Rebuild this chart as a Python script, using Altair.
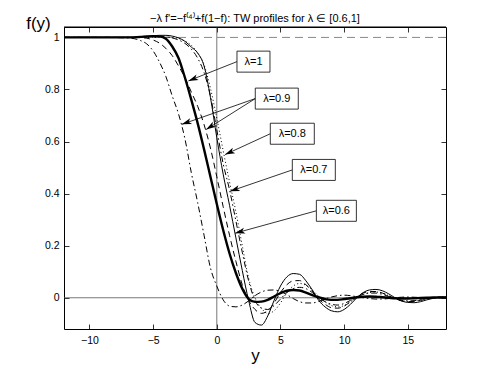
import math
import altair as alt
import pandas as pd

# ---------------- data ----------------
XS = [-12, -9, -7, -6, -5.5, -5, -4.5, -4, -3.5, -3, -2.5, -2, -1.5, -1, -0.5, 0,
      0.5, 1, 1.5, 2, 2.5, 3, 3.5, 4, 4.5, 5, 5.5, 6, 6.5, 7, 7.5, 8, 8.5, 9, 9.5,
      10, 10.5, 11, 11.5, 12, 12.5, 13, 13.5, 14, 14.5, 15, 15.5, 16, 16.5, 17, 17.5, 18]

# leftmost dash-dot profile (second lambda=0.9 solution)
CURVE_A = [1.0, 1.0, 0.998, 0.988, 0.975, 0.948, 0.905, 0.85, 0.775, 0.705, 0.61, 0.48,
           0.365, 0.24, 0.115, 0.045, -0.008, -0.032, -0.035, -0.028, -0.012, 0.008, 0.022,
           0.029, 0.03, 0.024, 0.012, -0.003, -0.015, -0.02, -0.02, -0.014, -0.005, 0.003,
           0.008, 0.01, 0.008, 0.004, 0.0, -0.003, -0.005, -0.005, -0.003, 0.0, 0.002, 0.003,
           0.002, 0.001, 0.0, -0.001, 0.0, 0.0]
# thick solid profile (lambda=1)
CURVE_B = [1.0, 1.0, 1.0, 1.002, 1.004, 1.005, 1.004, 0.995, 0.965, 0.92, 0.845, 0.76,
           0.67, 0.57, 0.465, 0.36, 0.26, 0.17, 0.095, 0.035, -0.004, -0.016, -0.015,
           -0.008, 0.005, 0.018, 0.027, 0.03, 0.028, 0.02, 0.01, 0.002, -0.005, -0.008,
           -0.008, -0.005, -0.002, 0.002, 0.004, 0.005, 0.004, 0.002, 0.0, -0.002, -0.003,
           -0.003, -0.002, -0.001, 0.0, 0.001, 0.001, 0.001]
# dashed profile (lambda=0.9)
CURVE_C = [1.0, 1.0, 1.0, 0.999, 0.997, 0.99, 0.978, 0.958, 0.93, 0.89, 0.845, 0.79,
           0.735, 0.665, 0.575, 0.465, 0.35, 0.24, 0.14, 0.05, -0.01, -0.045, -0.06, -0.05,
           -0.02, 0.02, 0.05, 0.065, 0.066, 0.05, 0.025, -0.005, -0.025, -0.038, -0.04,
           -0.032, -0.015, 0.005, 0.018, 0.024, 0.024, 0.018, 0.008, -0.004, -0.012, -0.015,
           -0.014, -0.01, -0.005, 0.0, 0.002, 0.002]
# thin solid profile (lambda=0.8)
CURVE_D = [1.0, 1.0, 1.0, 1.001, 1.003, 1.006, 1.008, 1.008, 1.005, 0.998, 0.985, 0.963,
           0.94, 0.89, 0.77, 0.615, 0.475, 0.355, 0.23, 0.105, -0.01, -0.095, -0.105, -0.07,
           -0.01, 0.045, 0.08, 0.093, 0.09, 0.065, 0.03, -0.01, -0.035, -0.05, -0.054, -0.045,
           -0.025, 0.0, 0.02, 0.03, 0.032, 0.027, 0.015, 0.0, -0.012, -0.018, -0.019, -0.015,
           -0.008, -0.002, 0.002, 0.003]
# right dash-dot profile (lambda=0.7)
CURVE_E = [1.0, 1.0, 1.0, 1.0, 1.001, 1.002, 1.003, 1.002, 0.998, 0.99, 0.977, 0.955,
           0.92, 0.865, 0.775, 0.645, 0.515, 0.415, 0.295, 0.175, 0.065, -0.01, -0.04, -0.045,
           -0.03, -0.005, 0.02, 0.035, 0.04, 0.035, 0.02, 0.0, -0.015, -0.025, -0.028, -0.022,
           -0.01, 0.003, 0.013, 0.018, 0.018, 0.013, 0.005, -0.004, -0.01, -0.012, -0.011,
           -0.007, -0.003, 0.0, 0.002, 0.002]
# dotted profile (lambda=0.6)
CURVE_F = [1.0, 1.0, 1.0, 1.0, 1.0, 1.0, 1.001, 1.001, 1.0, 0.996, 0.986, 0.97,
           0.94, 0.895, 0.805, 0.69, 0.565, 0.445, 0.33, 0.2, 0.075, 0.0, -0.04, -0.06,
           -0.05, -0.02, 0.02, 0.045, 0.055, 0.048, 0.03, 0.005, -0.015, -0.03, -0.035, -0.03,
           -0.015, 0.0, 0.012, 0.02, 0.022, 0.018, 0.008, -0.003, -0.01, -0.014, -0.013,
           -0.009, -0.004, 0.0, 0.002, 0.002]

CURVE_NAMES = ["A", "B", "C", "D", "E", "F"]
CURVE_VALUES = [CURVE_A, CURVE_B, CURVE_C, CURVE_D, CURVE_E, CURVE_F]

XTICKS = [-10, -5, 0, 5, 10, 15]
YTICKS = [0, 0.2, 0.4, 0.6, 0.8, 1]

# annotation boxes
BOX_LABELS = ["λ=1", "λ=0.9", "λ=0.8", "λ=0.7", "λ=0.6"]
BOX_X = [2.88, 4.71, 5.93, 7.62, 9.39]
BOX_Y = [0.907, 0.765, 0.63, 0.491, 0.334]
BOX_W_PX = [33, 43, 44, 43, 40]
# arrows: which box they start from, and where they point
ARROW_BOX = [0, 1, 1, 2, 3, 4]
ARROW_TIP_X = [-2.23, -2.75, -0.84, 0.65, 1.04, 1.44]
ARROW_TIP_Y = [0.833, 0.666, 0.646, 0.55, 0.409, 0.248]

# ---------------- styling ----------------
STYLES = {
    "A": dict(strokeDash=[6, 3, 1.5, 3], strokeWidth=1.0),
    "B": dict(strokeWidth=2.4),
    "C": dict(strokeDash=[6, 4], strokeWidth=1.0),
    "D": dict(strokeWidth=1.0),
    "E": dict(strokeDash=[6, 3, 1.5, 3], strokeWidth=1.0),
    "F": dict(strokeDash=[1, 2.5], strokeWidth=1.0),
}

W, H = 382, 302
X_DOMAIN = [-12, 18]
Y_DOMAIN = [-0.12, 1.04]
KX = W / (X_DOMAIN[1] - X_DOMAIN[0])
KY = H / (Y_DOMAIN[1] - Y_DOMAIN[0])
BOX_H_PX = 21
FONT = "Liberation Sans"

for v in CURVE_VALUES:
    assert len(v) == len(XS)

rows = []
for name, vals in zip(CURVE_NAMES, CURVE_VALUES):
    for x, y in zip(XS, vals):
        rows.append({"x": x, "f": y, "curve": name})
df = pd.DataFrame(rows)

xs = alt.Scale(domain=X_DOMAIN, nice=False, zero=False)
ys = alt.Scale(domain=Y_DOMAIN, nice=False, zero=False)

# ---------------- axes (inward ticks on all four sides) ----------------
axis_main = alt.Chart(df).mark_point(opacity=0).encode(
    x=alt.X("x:Q", scale=xs, axis=alt.Axis(
        orient="bottom", values=XTICKS, format="~g", offset=-5, tickSize=5,
        domain=False, grid=False, labelPadding=6, title="y", titleFontSize=17,
        titleFontWeight="normal", titleY=31, titleBaseline="middle")),
    y=alt.Y("f:Q", scale=ys, axis=alt.Axis(
        orient="left", values=YTICKS, format="~g", offset=-5, tickSize=5,
        domain=False, grid=False, labelPadding=5, title="f(y)", titleAngle=0,
        titleX=-31, titleY=-4, titleAlign="center", titleBaseline="middle",
        titleFontSize=17, titleFontWeight="normal")),
)
axis_mirror = alt.Chart(df).mark_point(opacity=0).encode(
    x=alt.X("x:Q", scale=xs, axis=alt.Axis(
        orient="top", values=XTICKS, labels=False, offset=-5, tickSize=5,
        domain=False, grid=False, title=None)),
    y=alt.Y("f:Q", scale=ys, axis=alt.Axis(
        orient="right", values=YTICKS, labels=False, offset=-5, tickSize=5,
        domain=False, grid=False, title=None)),
)

# ---------------- reference lines and frame ----------------
vline = alt.Chart(pd.DataFrame({"x": [0]})).mark_rule(color="#555", strokeWidth=0.8).encode(
    x=alt.X("x:Q", scale=xs, axis=None))
hline = alt.Chart(pd.DataFrame({"f": [0]})).mark_rule(color="#555", strokeWidth=0.8).encode(
    y=alt.Y("f:Q", scale=ys, axis=None))
one_line = alt.Chart(pd.DataFrame({"f": [1]})).mark_rule(
    color="#888", strokeWidth=1, strokeDash=[8, 5]).encode(
    y=alt.Y("f:Q", scale=ys, axis=None))
top_frame = alt.Chart(pd.DataFrame({"f": [Y_DOMAIN[1]]})).mark_rule(
    color="black", strokeWidth=1.2).encode(
    y=alt.Y("f:Q", scale=ys, axis=None))

# ---------------- curves ----------------
curve_layers = []
for name in CURVE_NAMES:
    curve_layers.append(
        alt.Chart(df[df.curve == name]).mark_line(
            color="black", interpolate="monotone", **STYLES[name]).encode(
            x=alt.X("x:Q", scale=xs, axis=None),
            y=alt.Y("f:Q", scale=ys, axis=None),
            order="x:Q",
        )
    )

# ---------------- annotations ----------------
box_rows = []
for lab, cx, cy, w in zip(BOX_LABELS, BOX_X, BOX_Y, BOX_W_PX):
    box_rows.append({"label": lab, "cx": cx, "cy": cy,
                     "x0": cx - w / 2 / KX, "x1": cx + w / 2 / KX,
                     "y0": cy - BOX_H_PX / 2 / KY, "y1": cy + BOX_H_PX / 2 / KY})
boxes = pd.DataFrame(box_rows)

arrow_rows = []
for bi, tx, ty in zip(ARROW_BOX, ARROW_TIP_X, ARROW_TIP_Y):
    sx = boxes.loc[bi, "x0"]
    sy = boxes.loc[bi, "cy"]
    dx = (tx - sx) * KX
    dy = -(ty - sy) * KY
    ang = math.degrees(math.atan2(dx, -dy)) % 360
    arrow_rows.append({"sx": sx, "sy": sy, "tx": tx, "ty": ty, "angle": ang})
arrows = pd.DataFrame(arrow_rows)

arrow_lines = alt.Chart(arrows).mark_rule(color="black", strokeWidth=0.8).encode(
    x=alt.X("sx:Q", scale=xs, axis=None), y=alt.Y("sy:Q", scale=ys, axis=None),
    x2="tx:Q", y2="ty:Q")
ARROW_PATH = "M0,0 L-0.55,1.8 L0,1.35 L0.55,1.8 Z"
arrow_heads = alt.Chart(arrows).mark_point(
    shape=ARROW_PATH, filled=True, color="black", opacity=1, size=120).encode(
    x=alt.X("tx:Q", scale=xs, axis=None), y=alt.Y("ty:Q", scale=ys, axis=None),
    angle=alt.Angle("angle:Q", scale=None))

box_rects = alt.Chart(boxes).mark_rect(fill="white", stroke="black", strokeWidth=0.8).encode(
    x=alt.X("x0:Q", scale=xs, axis=None), x2="x1:Q",
    y=alt.Y("y0:Q", scale=ys, axis=None), y2="y1:Q")
box_text = alt.Chart(boxes).mark_text(font=FONT, fontSize=11, color="black").encode(
    x=alt.X("cx:Q", scale=xs, axis=None), y=alt.Y("cy:Q", scale=ys, axis=None),
    text="label:N")

chart = alt.layer(
    axis_main, axis_mirror, vline, hline, one_line, *curve_layers,
    arrow_lines, box_rects, box_text, arrow_heads, top_frame,
).properties(
    width=W, height=H,
    title=alt.TitleParams(
        text="−λ f'=−f⁽⁴⁾+f(1−f): TW profiles for λ ∈ [0.6,1]",
        font=FONT, fontSize=11, fontWeight="normal", color="black",
        anchor="middle", offset=-10),
    padding={"left": 56, "top": 19, "right": 39, "bottom": 35},
    autosize=alt.AutoSizeParams(type="none"),
).configure_view(
    stroke="black", strokeWidth=1
).configure_axis(
    labelFont=FONT, titleFont=FONT, labelFontSize=10.5, labelColor="black",
    titleColor="black", tickColor="black", tickWidth=0.8,
)

chart.save("out.html", embed_options={"renderer": "svg", "actions": False})
